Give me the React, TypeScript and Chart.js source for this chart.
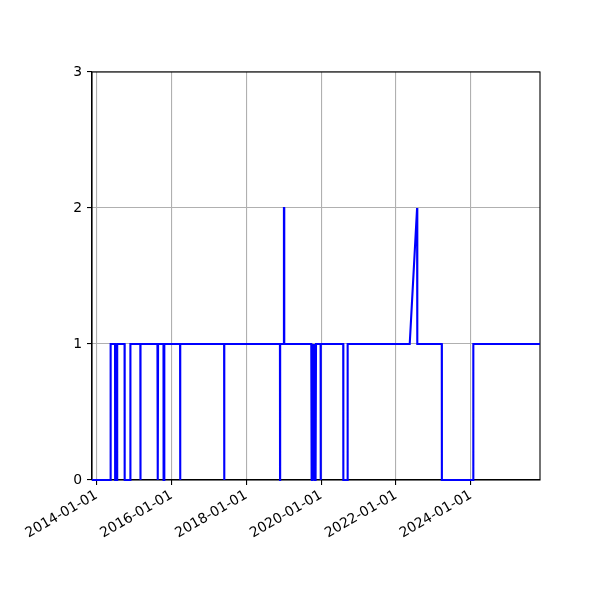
import { useEffect, useRef } from "react";
import { Chart, registerables } from "chart.js";

Chart.register(...registerables);

// observation dates and the count recorded on each
const dates = [
  "2013-11-16", "2014-05-16", "2014-05-17", "2014-06-29", "2014-06-30", "2014-07-19", "2014-07-20",
  "2014-09-30", "2014-10-01", "2014-11-25", "2014-11-26",
  "2015-03-03", "2015-03-04", "2015-03-05",
  "2015-08-17", "2015-08-18", "2015-08-22", "2015-08-23",
  "2015-10-15", "2015-10-16", "2015-10-22", "2015-10-23",
  "2016-03-25", "2016-03-26", "2016-03-27",
  "2017-05-29", "2017-05-30", "2017-05-31",
  "2018-11-25", "2018-11-26", "2018-11-27",
  "2019-01-02", "2019-01-03", "2019-01-05", "2019-01-06",
  "2019-09-27", "2019-09-28", "2019-09-30", "2019-10-01", "2019-10-03", "2019-10-04",
  "2019-10-06", "2019-10-07", "2019-10-09", "2019-10-10", "2019-10-12", "2019-10-13",
  "2019-10-15", "2019-10-16", "2019-10-18", "2019-10-19", "2019-10-21", "2019-10-22",
  "2019-10-24", "2019-10-25", "2019-10-27", "2019-10-28", "2019-10-30", "2019-10-31",
  "2019-11-02", "2019-11-03", "2019-11-05", "2019-11-06", "2019-11-08", "2019-11-09",
  "2019-11-11", "2019-11-12",
  "2019-12-27", "2019-12-28", "2019-12-29",
  "2020-08-04", "2020-08-05", "2020-09-15", "2020-09-16",
  "2022-05-15", "2022-07-26", "2022-07-28",
  "2023-03-24", "2023-03-25", "2024-01-25", "2024-01-26",
  "2025-11-07",
];
const counts = [
  0, 0, 1, 1, 0, 0, 1,
  1, 0, 0, 1,
  1, 0, 1,
  1, 0, 0, 1,
  1, 0, 0, 1,
  1, 0, 1,
  1, 0, 1,
  1, 0, 1,
  1, 2, 2, 1,
  1, 0, 1, 0, 1, 0,
  1, 0, 1, 0, 1, 0,
  1, 0, 1, 0, 1, 0,
  1, 0, 1, 0, 1, 0,
  1, 0, 1, 0, 1, 0,
  0, 1,
  1, 0, 1,
  1, 0, 0, 1,
  1, 2, 1,
  1, 0, 0, 1,
  1,
];

const tickDates = ["2014-01-01", "2016-01-01", "2018-01-01", "2020-01-01", "2022-01-01", "2024-01-01"];
const yTicks = [0, 1, 2, 3];

const FONT = { family: "'DejaVu Sans', sans-serif", size: 13.9 };

// top and right spines, drawn under the line like matplotlib's axes box
const frame = {
  id: "frame",
  beforeDatasetsDraw(chart: Chart) {
    const { ctx, chartArea: a } = chart;
    ctx.save();
    ctx.strokeStyle = "#000";
    ctx.lineWidth = 1.1;
    ctx.strokeRect(a.left, a.top, a.right - a.left, a.bottom - a.top);
    ctx.restore();
  },
};

export default function App() {
  const ref = useRef<HTMLCanvasElement>(null);

  useEffect(() => {
    if (!ref.current) return;
    const points = dates.map((d, i) => ({ x: Date.parse(d), y: counts[i] }));
    const chart = new Chart(ref.current, {
      type: "line",
      data: {
        datasets: [
          {
            data: points,
            borderColor: "#0000ff",
            borderWidth: 2.1,
            pointRadius: 0,
            tension: 0,
            fill: false,
            clip: 4,
          },
        ],
      },
      options: {
        responsive: false,
        animation: false,
        devicePixelRatio: 1,
        layout: { padding: { left: 0, top: 72, right: 60, bottom: 0 } },
        plugins: { legend: { display: false }, tooltip: { enabled: false } },
        scales: {
          x: {
            type: "linear",
            min: Date.parse(dates[0]),
            max: Date.parse(dates[dates.length - 1]),
            afterBuildTicks: (scale: any) => {
              scale.ticks = tickDates.map((d) => ({ value: Date.parse(d) }));
            },
            afterFit: (scale: any) => {
              scale.height = 120;
            },
            ticks: {
              autoSkip: false,
              minRotation: 30,
              maxRotation: 30,
              padding: 2,
              color: "#000",
              font: FONT,
              callback: (v: any) => new Date(v).toISOString().slice(0, 10),
            },
            grid: { color: "#b0b0b0", lineWidth: 1.1, tickColor: "#000", tickLength: 5 },
            border: { color: "#000", width: 1.1 },
          },
          y: {
            min: 0,
            max: 3,
            afterBuildTicks: (scale: any) => {
              scale.ticks = yTicks.map((v) => ({ value: v }));
            },
            afterFit: (scale: any) => {
              scale.width = 92;
            },
            ticks: { padding: 5, color: "#000", font: FONT },
            grid: { color: "#b0b0b0", lineWidth: 1.1, tickColor: "#000", tickLength: 5 },
            border: { color: "#000", width: 1.1 },
          },
        },
      },
      plugins: [frame],
    });
    return () => {
      chart.destroy();
    };
  }, []);

  return (
    <div style={{ position: "absolute", left: 0, top: 0, width: 600, height: 600, background: "#fff" }}>
      <canvas ref={ref} width={600} height={600} />
    </div>
  );
}
